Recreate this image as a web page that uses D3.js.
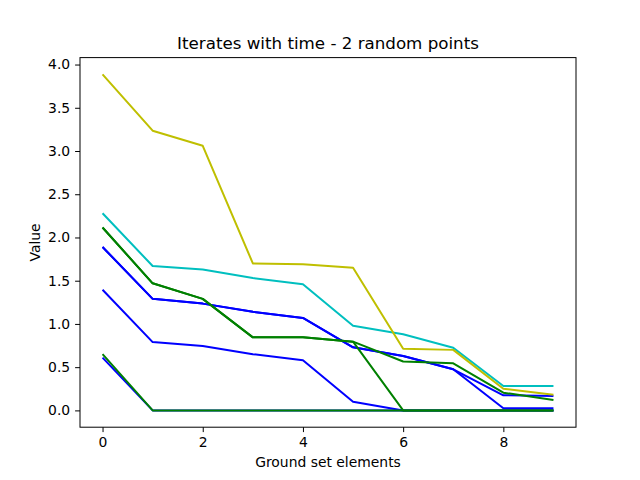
<!DOCTYPE html>
<html>
<head>
<meta charset="utf-8">
<script src="https://cdn.jsdelivr.net/npm/d3@7"></script>
<style>
  body { margin: 0; background: #fff; }
  svg text { font-family: "DejaVu Sans", sans-serif; fill: #000; }
</style>
</head>
<body>
<div id="chart"></div>
<script>
// ground set index 0..9
var steps = [0, 1, 2, 3, 4, 5, 6, 7, 8, 9];

// blue runs
var blueA1 = [1.89, 1.29, 1.235, 1.14, 1.07, 0.73, 0.63, 0.475, 0.175, 0.167];
var blueA2 = [1.89, 1.29, 1.235, 1.14, 1.07, 0.73, 0.63, 0.475, 0.025, 0.025];
var blueB = [1.395, 0.79, 0.745, 0.65, 0.58, 0.10, 0.0, 0.0, 0.0, 0.0];
var blueC = [0.61, 0.0, 0.0, 0.0, 0.0, 0.0, 0.0, 0.0, 0.0, 0.0];
// green runs
var greenA1 = [2.115, 1.47, 1.29, 0.845, 0.845, 0.795, 0.565, 0.545, 0.205, 0.12];
var greenA2 = [2.115, 1.47, 1.29, 0.845, 0.845, 0.795, 0.0, 0.0, 0.0, 0.0];
var greenB = [0.65, 0.0, 0.0, 0.0, 0.0, 0.0, 0.0, 0.0, 0.0, 0.0];
// cyan / yellow
var cyanA = [2.28, 1.67, 1.63, 1.53, 1.46, 0.98, 0.88, 0.725, 0.283, 0.283];
var yellowA = [3.886, 3.235, 3.06, 1.70, 1.69, 1.65, 0.714, 0.70, 0.25, 0.18];

var yTicks = [0.0, 0.5, 1.0, 1.5, 2.0, 2.5, 3.0, 3.5, 4.0];
var xTicks = [0, 2, 4, 6, 8];

var series = [
  {c: "#0000ff", v: blueA1}, {c: "#0000ff", v: blueA2},
  {c: "#0000ff", v: blueB}, {c: "#0000ff", v: blueC},
  {c: "#008000", v: greenA1}, {c: "#008000", v: greenA2},
  {c: "#008000", v: greenB},
  {c: "#00bfbf", v: cyanA},
  {c: "#bfbf00", v: yellowA}
];

var width = 640, height = 480;
var margin = {top: 57.6, right: 64, bottom: 52.8, left: 80};
var w = width - margin.left - margin.right;
var h = height - margin.top - margin.bottom;

var svg = d3.select("#chart").append("svg")
  .attr("width", width).attr("height", height);

var g = svg.append("g")
  .attr("transform", "translate(" + margin.left + "," + margin.top + ")");

// matplotlib style 5% margins
var yMax = d3.max(series, function(s) { return d3.max(s.v); });
var yMin = 0;
var yPad = (yMax - yMin) * 0.05;

var x = d3.scaleLinear().domain([-0.45, 9.45]).range([0, w]);
var y = d3.scaleLinear().domain([yMin - yPad, yMax + yPad]).range([h, 0]);

var line = d3.line()
  .x(function(d, i) { return x(steps[i]); })
  .y(function(d) { return y(d); });

g.selectAll("path.run").data(series).enter().append("path")
  .attr("class", "run")
  .attr("d", function(d) { return line(d.v); })
  .attr("fill", "none")
  .attr("stroke", function(d) { return d.c; })
  .attr("stroke-width", 2)
  .attr("stroke-linejoin", "round")
  .attr("stroke-linecap", "butt");

var xAxis = g.append("g")
  .attr("transform", "translate(0," + h + ")")
  .call(d3.axisBottom(x).tickValues(xTicks).tickFormat(d3.format("d"))
    .tickSize(4.9).tickPadding(4.9));

var yAxis = g.append("g")
  .call(d3.axisLeft(y).tickValues(yTicks).tickFormat(d3.format(".1f"))
    .tickSize(4.9).tickPadding(4.9));

[xAxis, yAxis].forEach(function(a) {
  a.select(".domain").remove();
  a.selectAll("line").attr("stroke", "#000").attr("stroke-width", 1);
  a.selectAll("text").style("font-size", "13.9px")
    .style("font-family", "DejaVu Sans, sans-serif");
});

// frame
g.append("rect")
  .attr("width", w).attr("height", h)
  .attr("fill", "none").attr("stroke", "#000").attr("stroke-width", 1);

svg.append("text")
  .attr("x", margin.left + w / 2).attr("y", 49)
  .attr("text-anchor", "middle")
  .style("font-size", "16.7px")
  .text("Iterates with time - 2 random points");

svg.append("text")
  .attr("x", margin.left + w / 2).attr("y", 467)
  .attr("text-anchor", "middle")
  .style("font-size", "13.9px")
  .text("Ground set elements");

svg.append("text")
  .attr("transform", "translate(40," + (margin.top + h / 2) + ") rotate(-90)")
  .attr("text-anchor", "middle")
  .style("font-size", "13.9px")
  .text("Value");
</script>
</body>
</html>
